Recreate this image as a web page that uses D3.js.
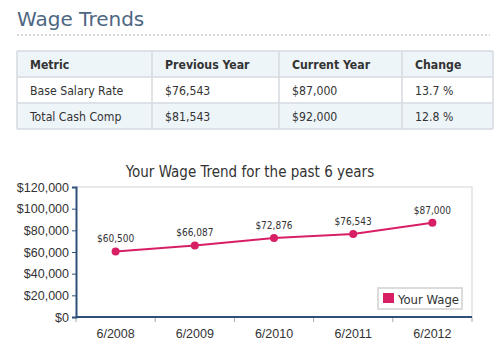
<!DOCTYPE html>
<html>
<head>
<meta charset="utf-8">
<script src="https://cdn.jsdelivr.net/npm/d3@7"></script>
<style>
  body { margin: 0; background: #fff; font-family: "DejaVu Sans Condensed", "DejaVu Sans", sans-serif; }
  svg text { fill: #333; }
</style>
</head>
<body>
<svg id="chart" width="500" height="364"></svg>
<script>
// Table data
var tableHeaders = ["Metric", "Previous Year", "Current Year", "Change"];
var tableMetrics = ["Base Salary Rate", "Total Cash Comp"];
var previousYear = ["$76,543", "$81,543"];
var currentYear = ["$87,000", "$92,000"];
var changes = ["13.7 %", "12.8 %"];

// Chart data
var years = ["6/2008", "6/2009", "6/2010", "6/2011", "6/2012"];
var wages = [60500, 66087, 72876, 76543, 87000];
var yTicks = [0, 20000, 40000, 60000, 80000, 100000, 120000];

var svg = d3.select("#chart");
var blue = "#2f5179";
var pink = "#d81f66";

// Heading
svg.append("text")
    .attr("x", 17)
    .attr("y", 26)
    .style("font-family", "'DejaVu Sans', sans-serif")
    .style("font-size", "20px")
    .style("fill", "#4d6783")
    .text("Wage Trends");

svg.append("line")
    .attr("x1", 17).attr("x2", 490)
    .attr("y1", 35).attr("y2", 35)
    .attr("stroke", "#d6d9dc")
    .attr("stroke-width", 2)
    .attr("stroke-dasharray", "2,2");

// Table
var colX = [17, 152, 279, 402, 493];
var rowY = [51, 77, 103, 129];
var rows = [tableHeaders];
for (var i = 0; i < tableMetrics.length; i++) {
    rows.push([tableMetrics[i], previousYear[i], currentYear[i], changes[i]]);
}

var table = svg.append("g").attr("class", "table");
rows.forEach(function (row, r) {
    table.append("rect")
        .attr("x", colX[0]).attr("y", rowY[r])
        .attr("width", colX[4] - colX[0]).attr("height", rowY[r + 1] - rowY[r])
        .attr("fill", r == 1 ? "#ffffff" : "#eef5f9");
    row.forEach(function (cell, c) {
        table.append("text")
            .attr("x", colX[c] + 13)
            .attr("y", (rowY[r] + rowY[r + 1]) / 2 + 4.5)
            .style("font-size", "12.2px")
            .style("font-weight", r == 0 ? "bold" : "normal")
            .text(cell);
    });
});
colX.forEach(function (x) {
    table.append("line")
        .attr("x1", x).attr("x2", x)
        .attr("y1", rowY[0]).attr("y2", rowY[3])
        .attr("stroke", "#d5dadf").attr("stroke-width", 1.5);
});
rowY.forEach(function (y) {
    table.append("line")
        .attr("x1", colX[0]).attr("x2", colX[4])
        .attr("y1", y).attr("y2", y)
        .attr("stroke", "#d5dadf").attr("stroke-width", 1.5);
});

// Chart
var plot = { left: 76, right: 472, top: 187, bottom: 317 };

var xScale = d3.scaleBand()
    .domain(years)
    .range([plot.left, plot.right]);

var yScale = d3.scaleLinear()
    .domain([0, 120000])
    .range([plot.bottom, plot.top]);

svg.append("text")
    .attr("x", 250)
    .attr("y", 177)
    .attr("text-anchor", "middle")
    .style("font-size", "15px")
    .text("Your Wage Trend for the past 6 years");

// light frame on top and right
svg.append("path")
    .attr("d", "M" + plot.left + "," + plot.top + "H" + plot.right + "V" + plot.bottom)
    .attr("fill", "none")
    .attr("stroke", "#e3e3e3")
    .attr("stroke-width", 1.5);

// x axis
var xAxis = d3.axisBottom(xScale).tickSize(0).tickPadding(12);
var gx = svg.append("g")
    .attr("transform", "translate(0," + plot.bottom + ")")
    .call(xAxis);
gx.select(".domain").remove();
gx.selectAll("text").style("font-size", "12.5px").style("fill", "#333");
var xEdges = [plot.left].concat(years.map(function (d) { return xScale(d) + xScale.bandwidth(); }));
gx.selectAll(".edge")
    .data(xEdges)
    .enter().append("line")
    .attr("class", "edge")
    .attr("x1", function (d) { return d; }).attr("x2", function (d) { return d; })
    .attr("y1", 0).attr("y2", 5)
    .attr("stroke", "#aaa");
gx.append("line")
    .attr("x1", plot.left).attr("x2", plot.right)
    .attr("y1", 0).attr("y2", 0)
    .attr("stroke", blue).attr("stroke-width", 2);

// y axis
var yAxis = d3.axisLeft(yScale)
    .tickValues(yTicks)
    .tickSize(4)
    .tickPadding(3)
    .tickFormat(function (d) { return "$" + d3.format(",")(d); });
var gy = svg.append("g")
    .attr("transform", "translate(" + plot.left + ",0)")
    .call(yAxis);
gy.select(".domain").attr("stroke", blue).attr("stroke-width", 2);
gy.selectAll(".tick line").attr("stroke", blue);
gy.selectAll("text").style("font-size", "12.5px").style("fill", "#333");

// line
var line = d3.line()
    .x(function (d, i) { return xScale(years[i]) + xScale.bandwidth() / 2; })
    .y(function (d) { return yScale(d); });

svg.append("path")
    .datum(wages)
    .attr("d", line)
    .attr("fill", "none")
    .attr("stroke", pink)
    .attr("stroke-width", 2);

svg.selectAll(".dot")
    .data(wages)
    .enter().append("circle")
    .attr("class", "dot")
    .attr("cx", function (d, i) { return xScale(years[i]) + xScale.bandwidth() / 2; })
    .attr("cy", function (d) { return yScale(d); })
    .attr("r", 4)
    .attr("fill", pink);

svg.selectAll(".val")
    .data(wages)
    .enter().append("text")
    .attr("class", "val")
    .attr("x", function (d, i) { return xScale(years[i]) + xScale.bandwidth() / 2; })
    .attr("y", function (d) { return yScale(d) - 9; })
    .attr("text-anchor", "middle")
    .style("font-size", "10px")
    .text(function (d) { return "$" + d3.format(",")(d); });

// legend
var legend = svg.append("g").attr("transform", "translate(378,288)");
legend.append("rect")
    .attr("width", 84).attr("height", 21)
    .attr("fill", "#fff")
    .attr("stroke", "#d0d0d0")
    .attr("stroke-width", 1.5);
legend.append("rect")
    .attr("x", 5).attr("y", 5)
    .attr("width", 11).attr("height", 10)
    .attr("fill", pink);
legend.append("text")
    .attr("x", 20).attr("y", 15.5)
    .style("font-size", "13px")
    .text("Your Wage");
</script>
</body>
</html>
